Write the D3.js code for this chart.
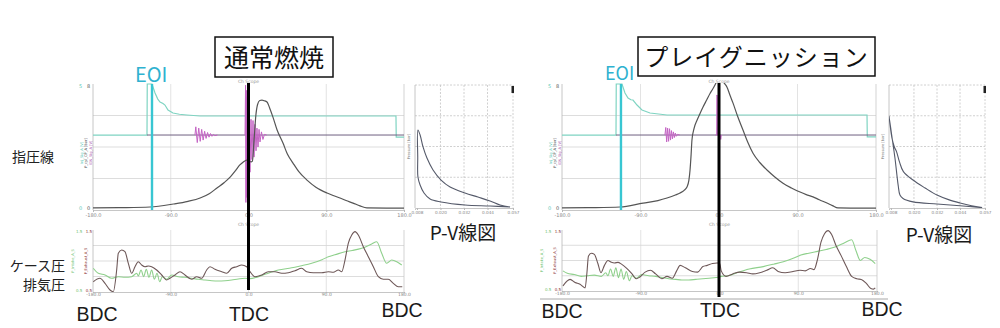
<!DOCTYPE html>
<html><head><meta charset="utf-8">
<script src="https://cdn.jsdelivr.net/npm/d3@7"></script>
<style>
html,body{margin:0;padding:0;background:#fff;}
svg{display:block;}
</style></head><body>
<svg id="c" width="1000" height="328"></svg>
<script>
// ---------------- DATA ----------------
const crankTicks = [-180, -90, 0, 90, 180];
const crankTickLabels = ["-180.0", "-90.0", "0.0", "90.0", "180.0"];
const volumeTicks = [0.008, 0.020, 0.032, 0.044, 0.057];
const volumeTickLabels = ["0.008", "0.020", "0.032", "0.044", "0.057"];
const pressureGrid = [20, 40, 60];
const pvPressureGrid = [27.5, 55, 82.5];
const lowerGrid = [0.25, 0.5, 0.75];
const panelTitles = ["通常燃焼", "プレイグニッション"];
const sideLabels = ["指圧線", "ケース圧", "排気圧"];
const eventLabels = ["EOI", "BDC", "TDC", "BDC", "P-V線図"];
const tdcAngle = 0;
const eoiAngles = [-111.7, -112.4];
const ignBaseline = 0.595;

// cylinder pressure [crank deg, bar]
const pressureNormal = [[-180,1.3],[-150,1.5],[-114,1.9],[-87,3.8],[-70,5.5],[-56,7.6],[-45,10.5],[-36.5,14],[-28,17.5],[-21,21],[-15,25],[-10,28.6],[-6,30.5],[-2,31.7],[1,30.8],[3,30.5],[4.5,31],[6.5,45],[8.5,60],[10.5,67],[13,69.5],[15.6,69.8],[18,69.4],[21.4,68.6],[25,64],[28.3,59],[33,51],[39.9,42.5],[45,35.5],[51.5,29.8],[58,24.5],[67.7,19],[78,14.5],[90.9,10.8],[98,9.2],[105.9,7.6],[113,6],[121,4.4],[129,2.6],[137,1.3],[160,1.2],[180,1.2]];
const pressurePreign = [[-180,1.3],[-150,1.5],[-113.5,1.9],[-87,4.4],[-70,6],[-59.6,7.6],[-50,9.5],[-44.7,10.8],[-40,12.5],[-36.7,14.6],[-34.5,19],[-33.2,25.4],[-32,35],[-31,44.4],[-28.5,52],[-25.2,57],[-22,61],[-18.3,65.4],[-14,70],[-10.3,74],[-7,77],[-4.6,79.4],[-2,82],[0,83],[3,82.5],[6,80.5],[9.2,78],[12.5,73],[16,68],[21,60],[27.5,50.8],[33,43],[39,36],[47,30],[55,25.4],[64,21],[73.4,17],[83,14],[92.9,11.4],[100,9.8],[107.8,8.3],[115,6.5],[123.8,4.4],[130,2.8],[136.4,1.3],[160,1.2],[180,1.2]];

// injector signal (normalised)
const injNormal = [[-180,0.595],[-117.5,0.595],[-117.2,1.0],[-111.7,1.0],[-108.2,0.929],[-105,0.88],[-102.4,0.857],[-99,0.845],[-96.7,0.833],[-93.2,0.794],[-87.4,0.77],[-80,0.76],[-71.2,0.754],[-56.2,0.746],[170.7,0.746],[171.0,0.579],[180,0.579]];
const injPreign = [[-180,0.595],[-118.1,0.595],[-117.8,1.0],[-111.2,1.0],[-107.8,0.929],[-104.3,0.889],[-101,0.875],[-98.6,0.873],[-94,0.833],[-88.3,0.794],[-79.1,0.77],[-59.6,0.754],[169.7,0.754],[170.0,0.58],[180,0.58]];

// ignition / knock signal ringing (normalised)
const ignRingNormalA = [[-62,0.595],[-61,0.66],[-59.3,0.535],[-57.6,0.65],[-55.9,0.545],[-54.2,0.64],[-52.5,0.555],[-50.8,0.625],[-49.1,0.568],[-47.4,0.615],[-45.7,0.578],[-44,0.607],[-42.3,0.585],[-40.6,0.6],[-38.9,0.59],[-36,0.595]];
const ignRingNormalB = [[-4,0.595],[-3.4,0.99],[-3.0,0.06],[-2.6,0.95],[-2.2,0.1],[-1.8,0.9],[-1.4,0.15],[-1.0,0.85],[-0.6,0.25],[0.5,0.75],[1.7,0.3],[2.9,0.72],[4.0,0.4],[5.2,0.71],[6.4,0.42],[7.5,0.68],[8.7,0.47],[9.8,0.65],[11,0.5],[12.2,0.64],[13.3,0.54],[15,0.62],[16.7,0.56],[18.5,0.6],[21,0.595]];
const ignRingPreignA = [[-62,0.595],[-61,0.655],[-60,0.54],[-58.9,0.65],[-57.8,0.545],[-56.7,0.645],[-55.6,0.555],[-54.5,0.63],[-53.4,0.565],[-52.3,0.62],[-51.2,0.575],[-50.1,0.61],[-49,0.585],[-47.5,0.6],[-45,0.595]];
const ignRingPreignB = [[-4,0.595],[-2.6,0.595],[-2.4,0.913],[-2.0,0.9],[-1.8,0.595],[1.5,0.595],[2,0.56],[2.6,0.595]];

// lower traces (normalised)
const exhaustNormal = [[-179.7,0.166],[-171.9,0.221],[-166.1,0.14],[-160.3,0.032],[-156.5,0.005],[-152.6,0.355],[-150.7,0.624],[-146.8,0.677],[-143,0.65],[-139.1,0.463],[-135.2,0.302],[-131.4,0.408],[-127.6,0.489],[-123.6,0.435],[-119.8,0.408],[-116,0.419],[-112.1,0.408],[-106.3,0.355],[-100.5,0.274],[-94.7,0.194],[-90.9,0.221],[-85.1,0.274],[-79.3,0.327],[-73.5,0.274],[-65.7,0.205],[-60,0.247],[-54.2,0.221],[-48.4,0.355],[-44.6,0.408],[-38.8,0.366],[-31,0.327],[-25.2,0.302],[-19.4,0.382],[-13.7,0.408],[-7.9,0.435],[-2.1,0.408],[1.7,0.33],[7.5,0.247],[15.3,0.274],[22.9,0.327],[30.7,0.327],[38.4,0.302],[46.1,0.311],[53.8,0.344],[61.6,0.382],[67.4,0.327],[75,0.311],[84.7,0.311],[92.4,0.327],[98.2,0.318],[104,0.355],[107.9,0.327],[111.7,0.516],[115.5,0.785],[119.5,0.919],[123.3,0.973],[127.1,0.919],[132.9,0.731],[138.7,0.569],[144.5,0.408],[150.3,0.247],[156.1,0.205],[161.8,0.205],[167.6,0.14],[173.4,0.085],[178,0.085]];
const caseNormal = [[-179.7,0.382],[-173.9,0.302],[-166.1,0.274],[-158.4,0.221],[-150.7,0.247],[-143,0.237],[-135.2,0.247],[-129.4,0.302],[-127.6,0.258],[-124.4,0.355],[-121.3,0.247],[-118.3,0.366],[-115.2,0.237],[-112.1,0.355],[-109,0.205],[-105.9,0.302],[-102.8,0.166],[-99.8,0.247],[-94.7,0.205],[-88.9,0.274],[-81.3,0.247],[-73.5,0.237],[-65.7,0.221],[-58.1,0.205],[-50.3,0.194],[-42.6,0.182],[-34.9,0.177],[-27.2,0.182],[-19.4,0.194],[-11.8,0.21],[-4,0.221],[1.7,0.215],[10,0.24],[20,0.29],[34.5,0.355],[50,0.39],[60,0.42],[73.2,0.463],[85,0.52],[92.4,0.569],[100,0.6],[111.7,0.65],[120,0.67],[131.1,0.705],[142.6,0.774],[148.4,0.811],[154.2,0.624],[160,0.463],[165.8,0.516],[171.6,0.489],[177.4,0.435]];
const exhaustPreign = [[-178.9,0.085],[-170.8,0.19],[-165,0.14],[-159.4,0.11],[-153.6,0.05],[-151.5,0.3],[-149.8,0.57],[-146.5,0.62],[-143,0.6],[-139,0.45],[-135.5,0.3],[-131.5,0.42],[-127.5,0.5],[-123.5,0.47],[-120,0.46],[-116,0.47],[-112,0.44],[-106,0.37],[-100,0.28],[-95,0.2],[-91,0.23],[-85,0.31],[-79,0.34],[-73,0.28],[-66,0.2],[-60,0.24],[-54,0.21],[-49,0.33],[-45,0.42],[-39,0.38],[-31,0.32],[-25,0.31],[-19,0.4],[-14,0.42],[-8,0.45],[-3,0.46],[0,0.46],[2,0.33],[7.5,0.24],[15,0.28],[23,0.31],[31,0.3],[38,0.28],[46,0.3],[54,0.34],[61,0.38],[67,0.32],[75,0.3],[84,0.32],[92,0.34],[98,0.33],[104,0.37],[108,0.35],[112,0.52],[116,0.8],[120,0.94],[124,0.99],[128,0.93],[133,0.75],[139,0.58],[145,0.4],[151,0.24],[157,0.2],[162,0.19],[168,0.12],[173,0.04],[176,0.03],[178,0.05]];
const casePreign = [[-179,0.33],[-174,0.29],[-166,0.27],[-158,0.24],[-151,0.25],[-143,0.26],[-135,0.24],[-130,0.3],[-127.5,0.25],[-124.5,0.36],[-121.5,0.24],[-118.5,0.38],[-115.5,0.22],[-112.5,0.36],[-109.5,0.19],[-106.5,0.32],[-103,0.17],[-100,0.25],[-95,0.21],[-89,0.27],[-81,0.25],[-73,0.24],[-66,0.22],[-58,0.2],[-50,0.19],[-43,0.18],[-35,0.18],[-27,0.19],[-19,0.2],[-12,0.21],[-4,0.22],[2,0.24],[10,0.25],[20,0.3],[34,0.36],[50,0.4],[62,0.44],[73,0.48],[85,0.54],[93,0.59],[102,0.62],[112,0.65],[122,0.68],[132,0.72],[143,0.79],[151,0.84],[156,0.66],[161,0.5],[166,0.55],[172,0.52],[178,0.45]];

// P-V loops [volume, bar]
const pvNormal = [[0.0555,0.9],[0.0453,1.8],[0.0325,2.7],[0.0203,5.4],[0.0147,8],[0.0116,13.4],[0.0096,20.6],[0.0085,27.7],[0.0084,45],[0.0085,69.8],[0.0096,65.3],[0.0111,54.6],[0.0131,44.7],[0.0162,34],[0.0203,25],[0.0249,18.8],[0.0325,13.4],[0.0391,9.8],[0.0453,6.3],[0.0504,2.7],[0.0555,0.9]];
const pvPreign = [[0.0555,0.3],[0.044,2],[0.032,3.6],[0.0195,5.5],[0.0143,8.5],[0.0127,11.6],[0.0118,20],[0.0101,44.7],[0.0084,65.3],[0.007,82.3],[0.0075,75],[0.0085,63],[0.0097,55],[0.011,50],[0.0125,41],[0.0145,32.5],[0.0195,25],[0.0258,17.9],[0.032,11.6],[0.038,7.5],[0.044,4.5],[0.05,2],[0.0555,0.3]];

// ---------------- DRAWING ----------------
const svg = d3.select('#c');
const JP = "'Noto Sans CJK JP', 'Noto Sans', sans-serif";
const LAT = "'Liberation Sans', Arial, sans-serif";
const TINY = "'DejaVu Sans', sans-serif";

const panels = [
  { title: panelTitles[0], box:{x:215,y:37,w:118,h:40,fs:25,ty:66.5,ls:0},
    eoiText:{x:135,y:82,fs:20},
    main:{x0:93,x1:404,y0:84,y1:210}, low:{x0:93,x1:404,y0:230,y1:292},
    pv:{x0:415,x1:513,y0:85,y1:208}, tdcTop:83, tdcBottom:290,
    pressure:pressureNormal, inj:injNormal, rings:[ignRingNormalA, ignRingNormalB], eoi:eoiAngles[0],
    exhaust:exhaustNormal, casep:caseNormal, pvData:pvNormal,
    lbl:{bdc1:[97,321], tdc:[249,321], bdc2:[402,316.5], pv:[463,240]}, rule:null },
  { title: panelTitles[1], box:{x:638,y:37,w:237,h:39,fs:24,ty:65.5,ls:1},
    eoiText:{x:605,y:80,fs:18},
    main:{x0:562,x1:876,y0:84,y1:210}, low:{x0:562,x1:877,y0:230,y1:291},
    pv:{x0:889,x1:985,y0:85,y1:208}, tdcTop:83, tdcBottom:297,
    pressure:pressurePreign, inj:injPreign, rings:[ignRingPreignA, ignRingPreignB], eoi:eoiAngles[1],
    exhaust:exhaustPreign, casep:casePreign, pvData:pvPreign,
    lbl:{bdc1:[562,318], tdc:[720,317], bdc2:[882,315.5], pv:[939,242]}, rule:{x0:540,x1:888,y:299} }
];

let clipN = 0;
function clip(g, r) {
  const id = 'clip' + (clipN++);
  svg.append('clipPath').attr('id', id).append('rect')
    .attr('x', r.x0).attr('y', r.y0 - 1).attr('width', r.x1 - r.x0).attr('height', r.y1 - r.y0 + 1);
  return g.append('g').attr('clip-path', `url(#${id})`);
}

function styleAxis(ax, fs) {
  ax.select('.domain').attr('stroke', '#b8b8b8').attr('stroke-width', 0.8);
  ax.selectAll('.tick line').attr('stroke', '#b8b8b8');
  ax.selectAll('.tick text').attr('font-size', fs).attr('fill', '#888').attr('font-family', TINY);
}

function frame(g, r) {
  g.append('line').attr('x1', r.x0).attr('x2', r.x0).attr('y1', r.y0).attr('y2', r.y1).attr('stroke', '#b8b8b8').attr('stroke-width', 0.8);
  g.append('line').attr('x1', r.x1).attr('x2', r.x1).attr('y1', r.y0).attr('y2', r.y1).attr('stroke', '#c8c8c8').attr('stroke-width', 0.8);
}

function drawPanel(p, pi) {
  const g = svg.append('g');
  // ---- main crank-angle chart
  const m = p.main;
  const x = d3.scaleLinear().domain([-180, 180]).range([m.x0, m.x1]);
  const yP = d3.scaleLinear().domain([0, 80]).range([m.y1, m.y0]);
  const yS = d3.scaleLinear().domain([0, 1]).range([m.y1, m.y0]);

  g.selectAll(null).data(crankTicks.slice(1, -1)).join('line')
    .attr('x1', d => x(d)).attr('x2', d => x(d)).attr('y1', m.y0).attr('y2', m.y1)
    .attr('stroke', '#dcdcdc').attr('stroke-width', 0.8);
  g.selectAll(null).data(pressureGrid).join('line')
    .attr('x1', m.x0).attr('x2', m.x1).attr('y1', d => yP(d)).attr('y2', d => yP(d))
    .attr('stroke', '#d4d4d4').attr('stroke-width', 0.8);
  frame(g, m);
  const ax = g.append('g').attr('transform', `translate(0,${m.y1})`)
    .call(d3.axisBottom(x).tickValues(crankTicks).tickFormat((d, i) => crankTickLabels[i]).tickSize(2).tickPadding(1));
  styleAxis(ax, 5);
  g.append('text').attr('x', x(0)).attr('y', m.y0 - 1.5).attr('text-anchor', 'middle')
    .attr('font-size', 4.5).attr('fill', '#999').attr('font-family', TINY).text('Ch Scope');
  // left axis tiny labels
  const la = g.append('g').attr('font-family', TINY).attr('font-size', 5);
  la.append('text').attr('x', m.x0 - 14).attr('y', m.y0 + 4).attr('fill', '#5cc8b8').text('5');
  la.append('text').attr('x', m.x0 - 6).attr('y', m.y0 + 4).attr('fill', '#555').text('8');
  la.append('text').attr('x', m.x0 - 14).attr('y', m.y1).attr('fill', '#5cc8b8').text('0');
  la.append('text').attr('x', m.x0 - 6).attr('y', m.y1).attr('fill', '#555').text('0');
  const rot = [['Inj_Sig_A [V]', '#5cc8b8', -10.5], ['P_cyl_CP_A [bar]', '#444', -6], ['IGN_Sig_A [V]', '#b060b0', -1.5]];
  rot.forEach(r => la.append('text').attr('transform', `translate(${m.x0 + r[2]},${(m.y0 + m.y1) / 2 + 6}) rotate(-90)`)
    .attr('text-anchor', 'middle').attr('font-size', 3.6).attr('fill', r[1]).text(r[0]));

  const cg = clip(g, m);
  const lineS = d3.line().x(d => x(d[0])).y(d => yS(d[1]));
  const lineP = d3.line().x(d => x(d[0])).y(d => yP(d[1])).curve(d3.curveMonotoneX);
  // injector signal
  cg.append('path').datum(p.inj).attr('d', lineS).attr('fill', 'none').attr('stroke', '#7fd4c2').attr('stroke-width', 1.2);
  // ignition baseline (dark purple), from the injector step to the end
  cg.append('path').datum([[p.inj[1][0], ignBaseline], [180, ignBaseline]])
    .attr('d', lineS).attr('fill', 'none').attr('stroke', '#6f6080').attr('stroke-width', 1);
  // ringing
  p.rings.forEach(r => cg.append('path').datum(r).attr('d', lineS).attr('fill', 'none')
    .attr('stroke', '#c463c4').attr('stroke-width', 1));
  // pressure
  cg.append('path').datum(p.pressure).attr('d', lineP).attr('fill', 'none').attr('stroke', '#555').attr('stroke-width', 1.2);
  // EOI line
  g.append('line').attr('x1', x(p.eoi)).attr('x2', x(p.eoi)).attr('y1', m.y0).attr('y2', m.y1)
    .attr('stroke', '#38c6d2').attr('stroke-width', 2.4);

  // ---- lower chart
  const l = p.low;
  const xl = d3.scaleLinear().domain([-180, 180]).range([l.x0, l.x1]);
  const yl = d3.scaleLinear().domain([0, 1]).range([l.y1, l.y0]);
  g.selectAll(null).data(crankTicks.slice(1, -1)).join('line')
    .attr('x1', d => xl(d)).attr('x2', d => xl(d)).attr('y1', l.y0).attr('y2', l.y1)
    .attr('stroke', '#dcdcdc').attr('stroke-width', 0.8);
  g.selectAll(null).data(lowerGrid).join('line')
    .attr('x1', l.x0).attr('x2', l.x1).attr('y1', d => yl(d)).attr('y2', d => yl(d))
    .attr('stroke', '#d4d4d4').attr('stroke-width', 0.8);
  frame(g, l);
  const axl = g.append('g').attr('transform', `translate(0,${l.y1})`)
    .call(d3.axisBottom(xl).tickValues(crankTicks).tickFormat((d, i) => crankTickLabels[i]).tickSize(1).tickPadding(0));
  styleAxis(axl, 4.5);
  g.append('text').attr('x', xl(0)).attr('y', l.y0 - 4).attr('text-anchor', 'middle')
    .attr('font-size', 4.5).attr('fill', '#999').attr('font-family', TINY).text('Ch Scope');
  const ll = g.append('g').attr('font-family', TINY);
  ll.append('text').attr('transform', `translate(${l.x0 - 19},${(l.y0 + l.y1) / 2}) rotate(-90)`).attr('text-anchor', 'middle')
    .attr('font-size', 3.6).attr('fill', '#6cc06c').text('P_Intake_A_S');
  ll.append('text').attr('transform', `translate(${l.x0 - 6},${(l.y0 + l.y1) / 2}) rotate(-90)`).attr('text-anchor', 'middle')
    .attr('font-size', 3.6).attr('fill', '#8a3030').text('P_Exhaust_A_S');
  [['1.5', l.y0 + 3], ['0.5', l.y1]].forEach(t => {
    ll.append('text').attr('x', l.x0 - 17).attr('y', t[1]).attr('font-size', 4).attr('fill', '#6cc06c').text(t[0]);
    ll.append('text').attr('x', l.x0 - 1).attr('y', t[1]).attr('text-anchor', 'end').attr('font-size', 4).attr('fill', '#8a3030').text(t[0]);
  });
  const lc = clip(g, l);
  const lineL = d3.line().x(d => xl(d[0])).y(d => yl(d[1])).curve(d3.curveMonotoneX);
  lc.append('path').datum(p.casep).attr('d', lineL).attr('fill', 'none').attr('stroke', '#8fd08c').attr('stroke-width', 1.1);
  lc.append('path').datum(p.exhaust).attr('d', lineL).attr('fill', 'none').attr('stroke', '#6e5858').attr('stroke-width', 1.1);

  // ---- P-V chart
  const v = p.pv;
  const xv = d3.scaleLinear().domain([0.007, 0.057]).range([v.x0, v.x1]);
  const yv = d3.scaleLinear().domain([0, 110]).range([v.y1, v.y0]);
  g.selectAll(null).data(volumeTicks.slice(1)).join('line')
    .attr('x1', d => xv(d)).attr('x2', d => xv(d)).attr('y1', v.y0).attr('y2', v.y1)
    .attr('stroke', '#c4c4c4').attr('stroke-width', 0.8).attr('stroke-dasharray', '2,1.5');
  g.selectAll(null).data(pvPressureGrid.concat([110])).join('line')
    .attr('x1', v.x0).attr('x2', v.x1).attr('y1', d => yv(d)).attr('y2', d => yv(d))
    .attr('stroke', '#c4c4c4').attr('stroke-width', 0.8).attr('stroke-dasharray', '2,1.5');
  g.append('line').attr('x1', v.x0).attr('x2', v.x0).attr('y1', v.y0).attr('y2', v.y1).attr('stroke', '#b8b8b8').attr('stroke-width', 0.8);
  const axv = g.append('g').attr('transform', `translate(0,${v.y1})`)
    .call(d3.axisBottom(xv).tickValues(volumeTicks).tickFormat((d, i) => volumeTickLabels[i]).tickSize(2).tickPadding(1));
  styleAxis(axv, 4.2);
  g.append('text').attr('transform', `translate(${v.x0 - 5},${(v.y0 + v.y1) / 2}) rotate(-90)`).attr('text-anchor', 'middle')
    .attr('font-size', 3.6).attr('fill', '#777').attr('font-family', TINY).text('Pressure [bar]');
  g.append('rect').attr('x', v.x1 - 1.5).attr('y', v.y0 + 1).attr('width', 2.5).attr('height', 7).attr('fill', '#222');
  const vc = clip(g, v);
  vc.append('path').datum(p.pvData).attr('d', d3.line().x(d => xv(d[0])).y(d => yv(d[1])).curve(d3.curveCatmullRom.alpha(0.5)))
    .attr('fill', 'none').attr('stroke', '#555a6a').attr('stroke-width', 1.1);

  // ---- TDC line
  g.append('line').attr('x1', x(tdcAngle)).attr('x2', x(tdcAngle)).attr('y1', p.tdcTop).attr('y2', p.tdcBottom)
    .attr('stroke', '#000').attr('stroke-width', 3);

  if (p.rule) g.append('line').attr('x1', p.rule.x0).attr('x2', p.rule.x1).attr('y1', p.rule.y).attr('y2', p.rule.y)
    .attr('stroke', '#a8a8a8').attr('stroke-width', 1);

  // ---- title box
  g.append('rect').attr('x', p.box.x).attr('y', p.box.y).attr('width', p.box.w).attr('height', p.box.h)
    .attr('fill', '#fff').attr('stroke', '#111').attr('stroke-width', 1.5);
  g.append('text').attr('x', p.box.x + p.box.w / 2).attr('y', p.box.ty).attr('text-anchor', 'middle')
    .attr('font-family', JP).attr('font-size', p.box.fs).attr('letter-spacing', p.box.ls).attr('fill', '#111').text(p.title);

  // ---- labels
  g.append('text').attr('x', p.eoiText.x).attr('y', p.eoiText.y).attr('font-family', JP)
    .attr('font-size', p.eoiText.fs).attr('fill', '#2fb2d0').text(eventLabels[0]);
  const big = g.append('g').attr('font-family', LAT).attr('fill', '#1a1a1a').attr('text-anchor', 'middle').attr('font-size', 19.5);
  big.append('text').attr('x', p.lbl.bdc1[0]).attr('y', p.lbl.bdc1[1]).text(eventLabels[1]);
  big.append('text').attr('x', p.lbl.tdc[0]).attr('y', p.lbl.tdc[1]).text(eventLabels[2]);
  big.append('text').attr('x', p.lbl.bdc2[0]).attr('y', p.lbl.bdc2[1]).text(eventLabels[3]);
  g.append('text').attr('x', p.lbl.pv[0]).attr('y', p.lbl.pv[1]).attr('font-family', JP).attr('fill', '#1a1a1a')
    .attr('text-anchor', 'middle').attr('font-size', 19).text(eventLabels[4]);
}

panels.forEach(drawPanel);

// side labels
const side = svg.append('g').attr('font-family', JP).attr('fill', '#222').attr('font-size', 14);
side.append('text').attr('x', 12).attr('y', 161.5).text(sideLabels[0]);
side.append('text').attr('x', 65).attr('y', 271).attr('text-anchor', 'end').text(sideLabels[1]);
side.append('text').attr('x', 65).attr('y', 289.5).attr('text-anchor', 'end').text(sideLabels[2]);
</script>
</body></html>
